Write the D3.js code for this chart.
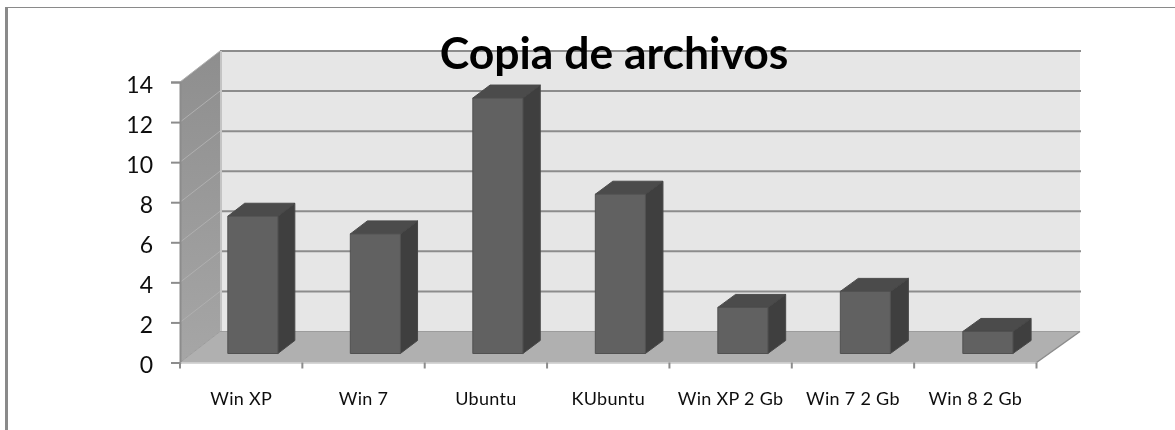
<!DOCTYPE html>
<html>
<head>
<meta charset="utf-8">
<script src="https://cdn.jsdelivr.net/npm/d3@7"></script>
<style>
  html, body { margin: 0; padding: 0; background: #fff; }
  svg { display: block; }
  text { font-family: Lato, sans-serif; }
</style>
</head>
<body>
<div id="chart"></div>
<script>
const categories = ["Win XP", "Win 7", "Ubuntu", "KUbuntu", "Win XP 2 Gb", "Win 7 2 Gb", "Win 8 2 Gb"];
const values = [6.85, 5.97, 12.75, 7.95, 2.3, 3.1, 1.1];
const yTicks = [0, 2, 4, 6, 8, 10, 12, 14];
const chartTitle = "Copia de archivos";

const width = 1175, height = 430;

const svg = d3.select("#chart").append("svg")
  .attr("width", width)
  .attr("height", height);

const x = d3.scaleBand().domain(categories).range([180, 1036.5]).paddingInner(0).paddingOuter(0);
const y = d3.scaleLinear().domain([0, 14]).range([362.5, 82]);
const x0 = x.range()[0], x1 = x.range()[1];
// depth of the 3d box, 0 = front edge, 1 = back wall. back wall is a bit wider than the front
const depthX = d3.scaleLinear().domain([x0, x1]).range([40, 43.5]);
const depthY = d3.scaleLinear().domain([0, 1]).range([0, -31]);

function pt(px, v, z) {
  return [px + depthX(px) * z, y(v) + depthY(z)];
}
const poly = pts => "M" + pts.map(p => p.join(",")).join("L") + "Z";

const defs = svg.append("defs");
const grad = defs.append("linearGradient")
  .attr("id", "side").attr("x1", 0).attr("x2", 0).attr("y1", 0).attr("y2", 1);
grad.append("stop").attr("offset", "0%").attr("stop-color", "#8e8e8e");
grad.append("stop").attr("offset", "100%").attr("stop-color", "#a6a6a6");
defs.append("filter").attr("id", "soft")
  .append("feGaussianBlur").attr("stdDeviation", 0.35);

// outer frame
svg.append("line").attr("x1", 6.5).attr("x2", 6.5).attr("y1", 7).attr("y2", height)
  .attr("stroke", "#8a8a8a").attr("stroke-width", 3);
svg.append("line").attr("x1", 5).attr("x2", width).attr("y1", 7.5).attr("y2", 7.5)
  .attr("stroke", "#8a8a8a").attr("stroke-width", 1);

// back wall
svg.append("path")
  .attr("d", poly([pt(x0, 0, 1), pt(x0, 14, 1), pt(x1, 14, 1), pt(x1, 0, 1)]))
  .attr("fill", "#e6e6e6");
// side wall
svg.append("path")
  .attr("d", poly([pt(x0, 0, 0), pt(x0, 14, 0), pt(x0, 14, 1), pt(x0, 0, 1)]))
  .attr("fill", "url(#side)");
// floor
svg.append("path")
  .attr("d", poly([pt(x0, 0, 0), pt(x0, 0, 1), pt(x1, 0, 1), pt(x1, 0, 0)]))
  .attr("fill", "#b0b0b0");

// gridlines on both walls
const grid = svg.append("g");
yTicks.filter(t => t > 0).forEach(t => {
  const back0 = pt(x0, t, 1), back1 = pt(x1, t, 1), front = pt(x0, t, 0);
  grid.append("line")
    .attr("x1", back0[0]).attr("y1", back0[1]).attr("x2", back1[0] + 1).attr("y2", back1[1])
    .attr("stroke", "#8c8c8c").attr("stroke-width", 2);
  grid.append("line")
    .attr("x1", front[0]).attr("y1", front[1]).attr("x2", back0[0]).attr("y2", back0[1])
    .attr("stroke", "#b0b0b0").attr("stroke-width", 1);
});
// wall edges
const floorBack = pt(x0, 0, 1), topBack = pt(x0, 14, 1);
svg.append("line").attr("x1", floorBack[0] + 1).attr("x2", floorBack[0] + 1).attr("y1", floorBack[1]).attr("y2", topBack[1])
  .attr("stroke", "#c4c4c4").attr("stroke-width", 2);
svg.append("line").attr("x1", floorBack[0]).attr("x2", pt(x1, 0, 1)[0]).attr("y1", floorBack[1]).attr("y2", floorBack[1])
  .attr("stroke", "#9c9c9c").attr("stroke-width", 1);
svg.append("line")
  .attr("x1", x1).attr("y1", y(0)).attr("x2", pt(x1, 0, 1)[0]).attr("y2", pt(x1, 0, 1)[1])
  .attr("stroke", "#8c8c8c").attr("stroke-width", 1.5);
svg.append("line")
  .attr("x1", x0).attr("y1", y(0)).attr("x2", floorBack[0]).attr("y2", floorBack[1])
  .attr("stroke", "#9c9c9c").attr("stroke-width", 1);

// bars
const barW = 50, zFront = 0.29, zBack = 0.71;
const bars = svg.append("g").selectAll("g")
  .data(categories.map((c, i) => ({ c: c, v: values[i] })))
  .join("g");

const barLeft = d => x(d.c) + x.bandwidth() / 2 - barW / 2;

bars.append("path") // top
  .attr("d", d => {
    const l = barLeft(d), r = l + barW;
    return poly([pt(l, d.v, zFront), pt(l, d.v, zBack), pt(r, d.v, zBack), pt(r, d.v, zFront)]);
  })
  .attr("fill", "#4b4b4b").attr("stroke", "#4b4b4b");
bars.append("path") // right side
  .attr("d", d => {
    const r = barLeft(d) + barW;
    return poly([pt(r, 0, zFront), pt(r, d.v, zFront), pt(r, d.v, zBack), pt(r, 0, zBack)]);
  })
  .attr("fill", "#3f3f3f").attr("stroke", "#484848");
bars.append("path") // front
  .attr("d", d => {
    const l = barLeft(d), r = l + barW;
    return poly([pt(l, 0, zFront), pt(l, d.v, zFront), pt(r, d.v, zFront), pt(r, 0, zFront)]);
  })
  .attr("fill", "#616161").attr("stroke", "#515151");

// axes, tick marks sit on the front edge
const yAxis = svg.append("g")
  .attr("transform", `translate(${x0},0)`)
  .call(d3.axisLeft(y).tickValues(yTicks).tickSize(9).tickPadding(18));
yAxis.select(".domain").attr("stroke", "#8c8c8c").attr("stroke-width", 2);
yAxis.selectAll(".tick line").attr("stroke", "#8c8c8c").attr("stroke-width", 2);
yAxis.selectAll(".tick text")
  .style("font-size", "23px").style("font-family", "Lato").attr("fill", "#111")
  .attr("dy", "0.44em")
  .attr("filter", "url(#soft)");

const xAxis = svg.append("g")
  .attr("transform", `translate(0,${y(0)})`)
  .call(d3.axisBottom(x).tickSize(0).tickPadding(30));
xAxis.select(".domain").attr("stroke", "#c8c8c8").attr("stroke-width", 1.5);
xAxis.selectAll(".tick text")
  .style("font-size", "18px").style("font-family", "Lato").style("letter-spacing", "0.3px").attr("fill", "#111")
  .attr("filter", "url(#soft)");
// tick marks fall between the categories
xAxis.selectAll(".edge")
  .data(categories.map(c => x(c)).concat(x1))
  .join("line")
  .attr("x1", d => d).attr("x2", d => d).attr("y1", 0).attr("y2", 6)
  .attr("stroke", "#8c8c8c").attr("stroke-width", 2);

svg.append("text")
  .attr("x", 614).attr("y", 68.5)
  .attr("text-anchor", "middle")
  .style("font-size", "44.5px").style("font-weight", 700)
  .attr("fill", "#000")
  .attr("filter", "url(#soft)")
  .text(chartTitle);
</script>
</body>
</html>
